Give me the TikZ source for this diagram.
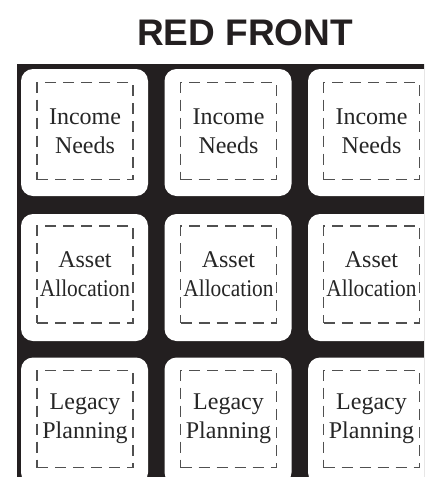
\documentclass[tikz,border=0pt]{standalone}
\usepackage{fontspec}
\setmainfont{Liberation Serif}
\newfontfamily\headfont{Liberation Sans}
\usetikzlibrary{shapes}

\definecolor{boardblack}{HTML}{231F20}
\definecolor{dashgray}{HTML}{505050}

\newcommand{\squeezed}[1]{\scalebox{0.89}[1]{#1}}

\tikzset{
  card/.style={fill=white, rounded corners=12pt, minimum width=127pt, minimum height=127pt},
  goal/.style={draw=dashgray, line width=1.6pt, dash pattern=on 11pt off 7pt,
    text width=96pt, minimum height=97pt, inner sep=0pt, align=center,
    font=\fontsize{24}{29}\selectfont, text=black!85}
}

\begin{document}
\begin{tikzpicture}[x=1pt,y=-1pt]
  \clip (0,0) rectangle (424,477);
  \fill[boardblack] (17,64) rectangle (460,500);
  \node[anchor=base,font=\headfont\bfseries\fontsize{37}{37}\selectfont,text=boardblack] (title) at (245,45) {RED FRONT};
  % cards
  \node[card] (c1) at (84.5,132.5) {};
  \node[card] (c2) at (228,132.5) {};
  \node[card] (c3) at (371.5,132.5) {};
  \node[card] (c4) at (84.5,277.5) {};
  \node[card] (c5) at (228,277.5) {};
  \node[card] (c6) at (371.5,277.5) {};
  \node[card] (c7) at (84.5,421) {};
  \node[card] (c8) at (228,421) {};
  \node[card] (c9) at (371.5,421) {};
  % dashed labels
  \node[goal] (g1) at (85,131) {Income\\Needs};
  \node[goal] (g2) at (228.5,131) {Income\\Needs};
  \node[goal] (g3) at (371.5,131) {Income\\Needs};
  \node[goal] (g4) at (85,274.5) {Asset\\\squeezed{Allocation}};
  \node[goal] (g5) at (228.5,274.5) {Asset\\\squeezed{Allocation}};
  \node[goal] (g6) at (371.5,274.5) {Asset\\\squeezed{Allocation}};
  \node[goal] (g7) at (85,419) {Legacy\\Planning};
  \node[goal] (g8) at (228.5,419) {Legacy\\Planning};
  \node[goal] (g9) at (371.5,419) {Legacy\\Planning};
\end{tikzpicture}
\end{document}
